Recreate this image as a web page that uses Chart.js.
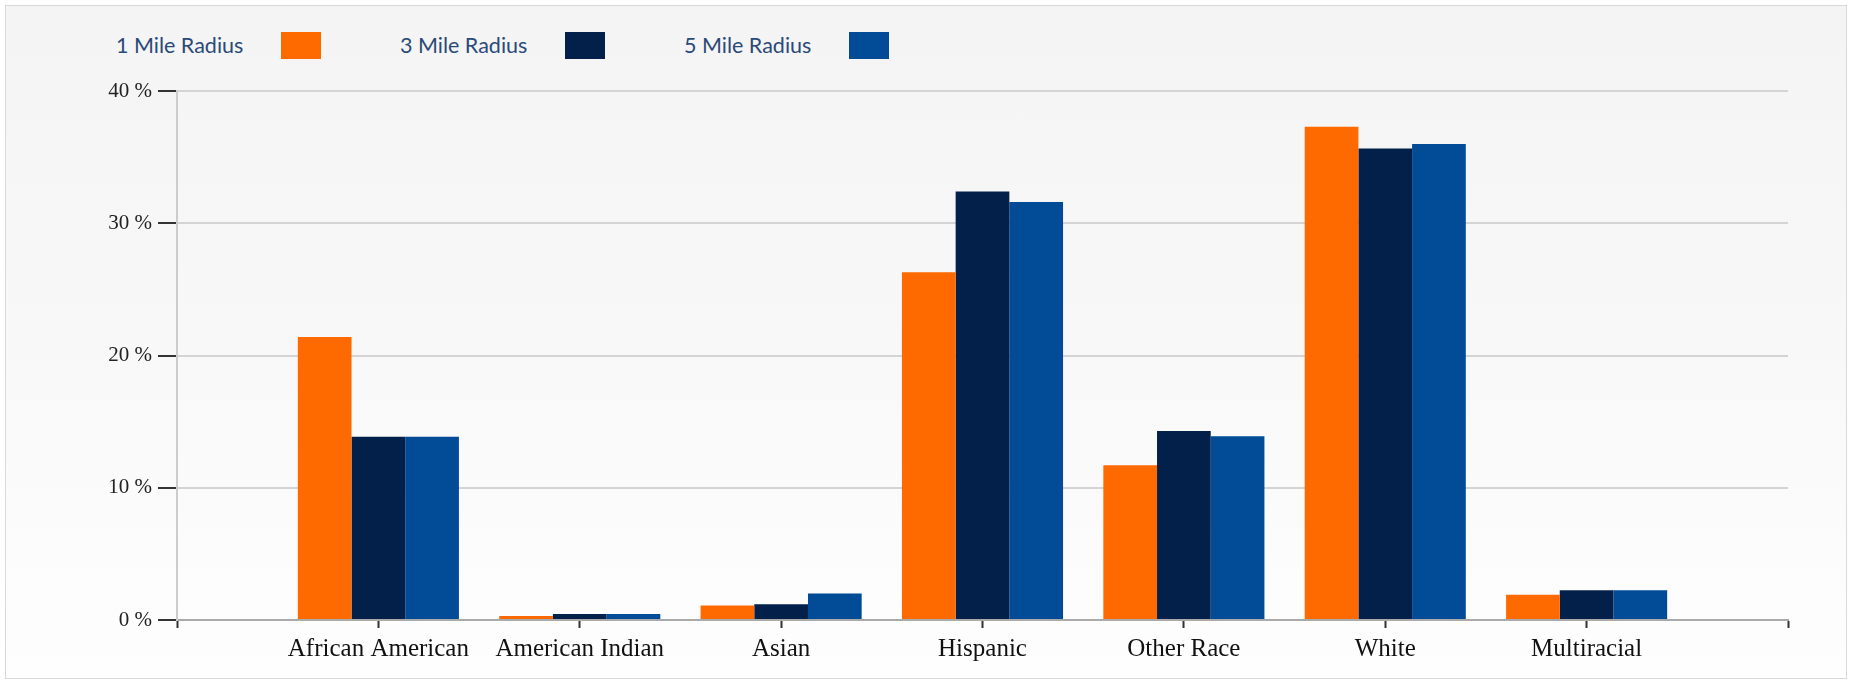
<!DOCTYPE html>
<html>
<head>
<meta charset="utf-8">
<script src="https://cdn.jsdelivr.net/npm/chart.js@4.4.1/dist/chart.umd.min.js"></script>
<style>
  body { margin: 0; width: 1854px; height: 694px; background: #fff; position: relative; overflow: hidden; }
  #frame { position: absolute; left: 5px; top: 5px; width: 1840px; height: 672px; border: 1px solid #d9d9d9;
           background: linear-gradient(to bottom, #f4f4f4 0%, #f8f8f8 50%, #fefefe 100%); }
  #legend { position: absolute; left: 116px; top: 32px; display: flex; font-family: Lato, sans-serif;
            font-size: 21.5px; color: #2b4a78; }
  .item { display: flex; align-items: center; margin-right: 79px; }
  .item span { width: 165px; line-height: 27px; }
  .item i { display: block; width: 40px; height: 27px; }
  #wrap { position: absolute; left: 0; top: 0; width: 1854px; height: 694px; }
</style>
</head>
<body>
<div id="frame"></div>
<div id="legend"></div>
<div id="wrap"><canvas id="raceChart"></canvas></div>
<script>
var categories = ["African American", "American Indian", "Asian", "Hispanic", "Other Race", "White", "Multiracial"];
var seriesLabels = ["1 Mile Radius", "3 Mile Radius", "5 Mile Radius"];
var seriesColors = ["#ff6a00", "#03204a", "#014b97"];
var oneMile = [21.4, 0.3, 1.1, 26.3, 11.7, 37.3, 1.9];
var threeMile = [13.85, 0.45, 1.2, 32.4, 14.3, 35.65, 2.25];
var fiveMile = [13.85, 0.45, 2.0, 31.6, 13.9, 36.0, 2.25];
var yTicks = [0, 10, 20, 30, 40];

function padded(arr) {//empty slot at each end of the axis
  return [null].concat(arr, [null]);
}

function buildLegend() {
  var box = document.getElementById("legend");
  for (var i = 0; i < seriesLabels.length; ++i) {
    var item = document.createElement("div");
    item.className = "item";
    item.innerHTML = "<span>" + seriesLabels[i] + "</span><i style='background:" + seriesColors[i] + "'></i>";
    box.appendChild(item);
  }
}

function drawChart() {
  var values = [oneMile, threeMile, fiveMile];
  var datasets = [];
  for (var i = 0; i < values.length; ++i) {
    datasets.push({
      label: seriesLabels[i],
      data: padded(values[i]),
      backgroundColor: seriesColors[i],
      categoryPercentage: 0.8,
      barPercentage: 1.0
    });
  }

  var ctx = document.getElementById("raceChart");
  new Chart(ctx, {
    type: 'bar',
    data: { labels: padded(categories).map(function (c) { return c || ""; }), datasets: datasets },
    options: {
      responsive: true,
      maintainAspectRatio: false,
      animation: false,
      layout: { padding: { top: 91, right: 66, left: 0, bottom: 0 } },
      plugins: { legend: { display: false }, tooltip: { enabled: false } },
      scales: {
        x: {
          offset: false,
          afterFit: function (s) { s.height = 74; },
          grid: { offset: false, drawOnChartArea: false, drawTicks: true, tickLength: 8, tickColor: '#333', tickWidth: 2 },
          border: { color: '#aaaaaa', width: 2 },
          ticks: { color: '#111', padding: 6, autoSkip: false, maxRotation: 0,
                   font: { family: '"Liberation Serif", serif', size: 25 } }
        },
        y: {
          min: yTicks[0],
          max: yTicks[yTicks.length - 1],
          afterFit: function (s) { s.width = 177; },
          afterBuildTicks: function (s) { s.ticks = yTicks.map(function (v) { return { value: v }; }); },
          grid: { color: '#d4d4d4', lineWidth: 2, tickLength: 19, tickColor: '#333', tickWidth: 2 },
          border: { color: '#cccccc', width: 2 },
          ticks: { color: '#222', padding: 6,
                   font: { family: '"Liberation Serif", serif', size: 21 },
                   callback: function (v) { return v + " %"; } }
        }
      }
    }
  });
}

buildLegend();
drawChart();
</script>
</body>
</html>
